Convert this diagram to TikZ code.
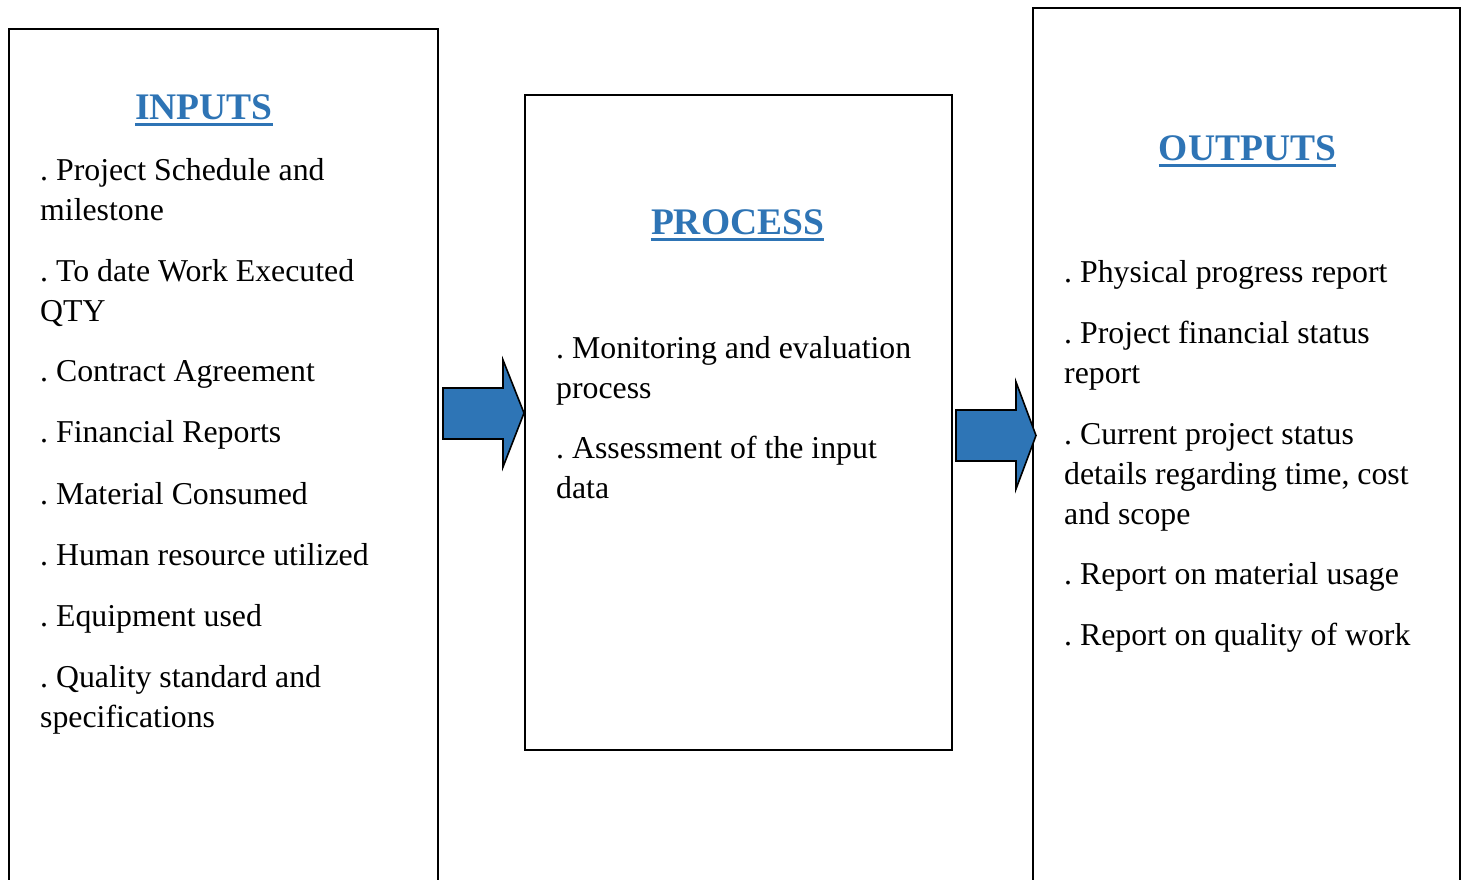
\documentclass[tikz,border=0pt]{standalone}
\usepackage{fontspec}
\setmainfont{Liberation Serif}
\frenchspacing
\definecolor{headblue}{HTML}{2E74B5}
\definecolor{arrowblue}{HTML}{2E75B6}
\begin{document}
\begin{tikzpicture}[x=1pt,y=-1pt,
  panel/.style={draw=black, line width=2pt, anchor=north west, inner sep=0pt},
  heading/.style={anchor=base, inner sep=0pt, text=headblue,
    font=\fontsize{37.5}{45}\selectfont\bfseries},
  headrule/.style={draw=headblue, line width=3pt},
  item/.style={anchor=north west, inner sep=0pt, align=left,
    font=\fontsize{31.8}{40}\selectfont},
  blockarrow/.style={fill=arrowblue, draw=black, line width=1.6pt, line join=miter}]
  \clip (0,0) rectangle (1467,879);
  \fill[white] (0,0) rectangle (1467,879);

  % three panels (the outer two run past the lower edge)
  \node[panel, minimum width=429pt, minimum height=900pt] (inbox) at (8,28) {};
  \node[panel, minimum width=427pt, minimum height=655pt] (procbox) at (524,94) {};
  \node[panel, minimum width=427pt, minimum height=920pt] (outbox) at (1032,7) {};

  % headings
  \node[heading] (hin) at (204,119) {INPUTS};
  \node[heading] (hproc) at (737.5,234) {PROCESS};
  \node[heading] (hout) at (1247.5,160) {OUTPUTS};
  \foreach \h in {hin,hproc,hout}
    \draw[headrule] ([yshift=-5pt]\h.base west) -- ([yshift=-5pt]\h.base east);

  % inputs
  \node[item] (i1) at (40,152) {\strut. Project Schedule and\\milestone};
  \node[item] (i2) at (40,253) {\strut. To date Work Executed\\QTY};
  \node[item] (i3) at (40,353) {\strut. Contract Agreement};
  \node[item] (i4) at (40,414) {\strut. Financial Reports};
  \node[item] (i5) at (40,476) {\strut. Material Consumed};
  \node[item] (i6) at (40,537) {\strut. Human resource utilized};
  \node[item] (i7) at (40,598) {\strut. Equipment used};
  \node[item] (i8) at (40,659) {\strut. Quality standard and\\specifications};

  % process
  \node[item] (p1) at (556,330) {\strut. Monitoring and evaluation\\process};
  \node[item] (p2) at (556,430) {\strut. Assessment of the input\\data};

  % outputs
  \node[item] (o1) at (1064,254) {\strut. Physical progress report};
  \node[item] (o2) at (1064,315) {\strut. Project financial status\\report};
  \node[item] (o3) at (1064,416) {\strut. Current project status\\details regarding time, cost\\and scope};
  \node[item] (o4) at (1064,556) {\strut. Report on material usage};
  \node[item] (o5) at (1064,617) {\strut. Report on quality of work};

  % block arrows between the panels
  \draw[blockarrow] (443,388) -- (503,388) -- (503,360) -- (procbox.west |- 0,413)
    -- (503,467) -- (503,439) -- (443,439) -- cycle;
  \draw[blockarrow] (956,410) -- (1016,410) -- (1016,382) -- (1036,435.5)
    -- (1016,489) -- (1016,461) -- (956,461) -- cycle;
\end{tikzpicture}
\end{document}
